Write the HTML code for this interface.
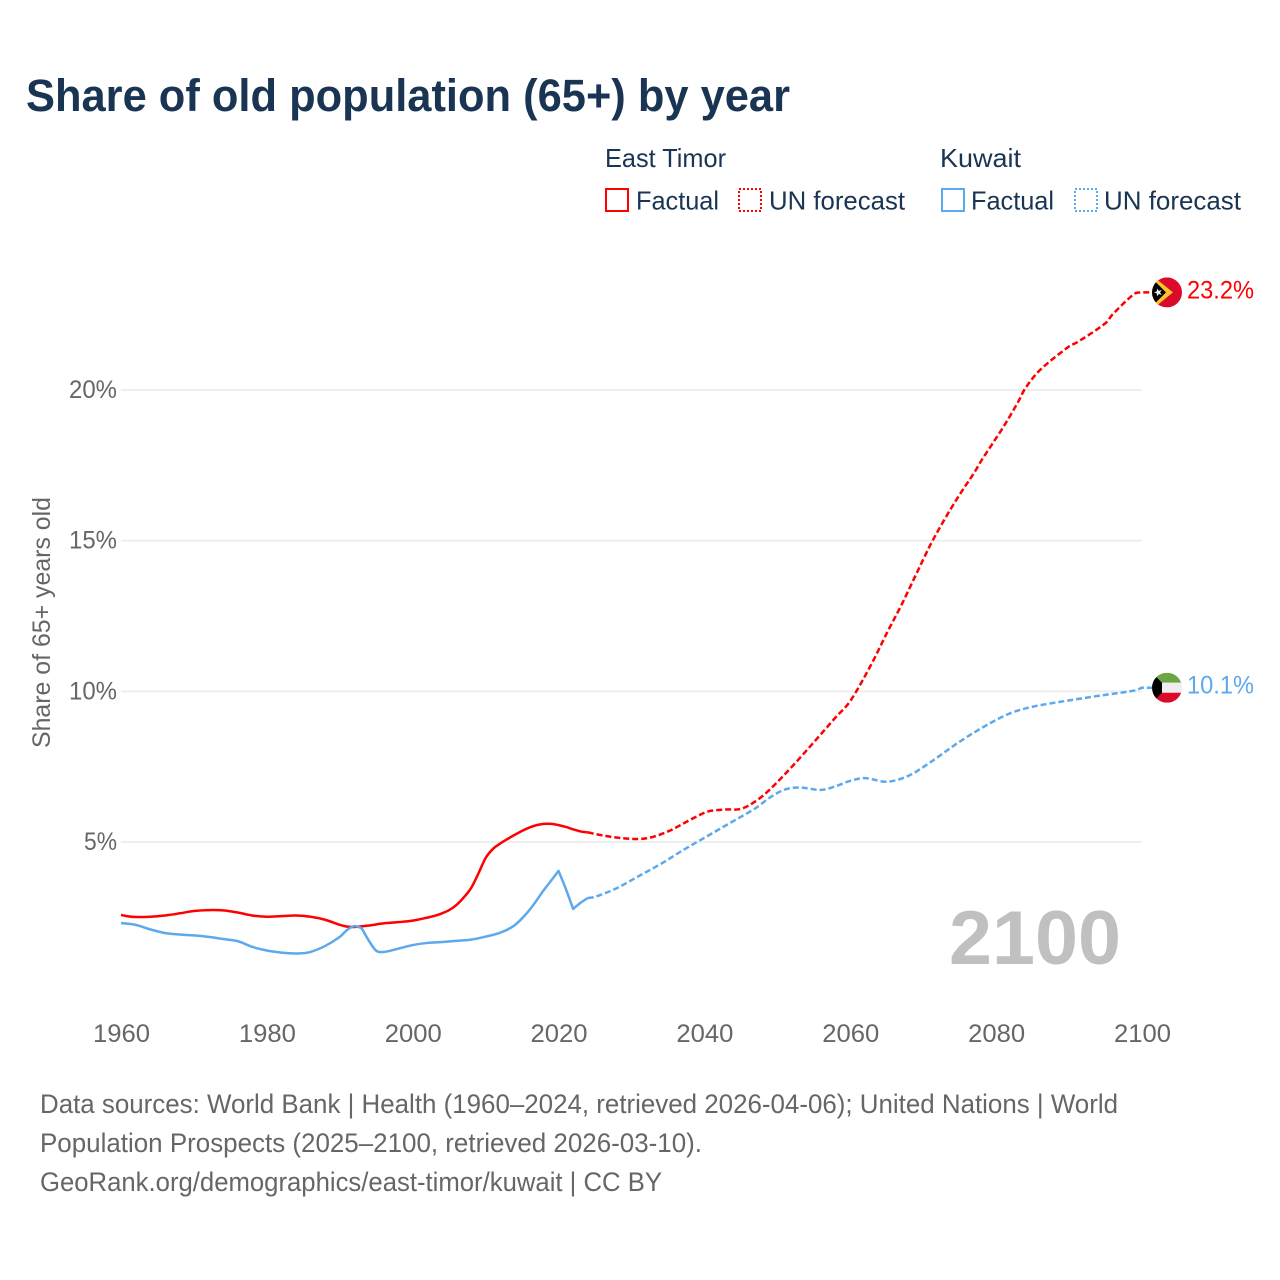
<!DOCTYPE html>
<html lang="en">
<head>
<meta charset="utf-8">
<title>Share of old population (65+) by year</title>
<style>
  html, body { margin: 0; padding: 0; background: #fff; }
  svg { display: block; font-family: "Liberation Sans", sans-serif; }
</style>
</head>
<body>
<svg id="chart" xmlns="http://www.w3.org/2000/svg" width="1280" height="1280" viewBox="0 0 1280 1280">
  <rect width="1280" height="1280" fill="#ffffff"/>
  <text x="26" y="111" font-size="45" font-weight="700" fill="#1a3553" textLength="764" lengthAdjust="spacingAndGlyphs">Share of old population (65+) by year</text>

  <g font-size="26" fill="#1a3553">
    <text x="605" y="167" textLength="121" lengthAdjust="spacingAndGlyphs">East Timor</text>
    <rect x="606" y="189" width="22" height="22" fill="none" stroke="#ff0000" stroke-width="2"/>
    <text x="636" y="209.5" textLength="83" lengthAdjust="spacingAndGlyphs">Factual</text>
    <rect x="739" y="189" width="22" height="22" fill="none" stroke="#ff0000" stroke-width="2" stroke-dasharray="2 2"/>
    <text x="769" y="209.5" textLength="136" lengthAdjust="spacingAndGlyphs">UN forecast</text>

    <text x="940" y="167" textLength="81" lengthAdjust="spacingAndGlyphs">Kuwait</text>
    <rect x="942" y="189" width="22" height="22" fill="none" stroke="#5ca9ee" stroke-width="2"/>
    <text x="971" y="209.5" textLength="83" lengthAdjust="spacingAndGlyphs">Factual</text>
    <rect x="1075" y="189" width="22" height="22" fill="none" stroke="#5ca9ee" stroke-width="2" stroke-dasharray="2 2"/>
    <text x="1104" y="209.5" textLength="137" lengthAdjust="spacingAndGlyphs">UN forecast</text>
  </g>

  <text transform="translate(50 622.5) rotate(-90)" text-anchor="middle" font-size="25" fill="#666666" textLength="251" lengthAdjust="spacingAndGlyphs">Share of 65+ years old</text>

  <g id="grid"></g>
  <g id="yticks"></g>
  <g id="xticks"></g>

  <text x="1121" y="964" text-anchor="end" font-size="76" font-weight="700" fill="#c0c0c0" textLength="172" lengthAdjust="spacingAndGlyphs">2100</text>

  <g id="series"></g>

  <defs>
    <clipPath id="flag-clip"><circle cx="0" cy="0" r="15"/></clipPath>
  </defs>

  <g id="flag-east-timor" clip-path="url(#flag-clip)">
    <rect x="-15" y="-15" width="30" height="30" fill="#dc0a2a"/>
    <polygon points="-15,-17 6,0 -15,17" fill="#fcc42c"/>
    <polygon points="-15,-14 -1,0 -15,14" fill="#000000"/>
    <polygon points="-13,0 -10.2,-1 -10,-4 -8.2,-1.6 -5.2,-2.4 -7,0 -5.2,2.4 -8.2,1.6 -10,4 -10.2,1" fill="#eeeeee"/>
  </g>
  <g id="flag-kuwait" clip-path="url(#flag-clip)">
    <rect x="-15" y="-15" width="30" height="10" fill="#6ca644"/>
    <rect x="-15" y="-5" width="30" height="10" fill="#eeeeee"/>
    <rect x="-15" y="5" width="30" height="10" fill="#dc0a2a"/>
    <polygon points="-15,-15 -5,-5 -5,5 -15,15" fill="#000000"/>
  </g>

  <g id="end-labels"></g>

  <g font-size="26.5" fill="#666666">
    <text x="40" y="1113" textLength="1078" lengthAdjust="spacingAndGlyphs">Data sources: World Bank | Health (1960–2024, retrieved 2026-04-06); United Nations | World</text>
    <text x="40" y="1152" textLength="662" lengthAdjust="spacingAndGlyphs">Population Prospects (2025–2100, retrieved 2026-03-10).</text>
    <text x="40" y="1191" textLength="622" lengthAdjust="spacingAndGlyphs">GeoRank.org/demographics/east-timor/kuwait | CC BY</text>
  </g>
</svg>

<script>
const xTickYears = [1960, 1980, 2000, 2020, 2040, 2060, 2080, 2100];
const yTickValues = [5, 10, 15, 20];

const eastTimorFactualYears = [1960,1961,1962,1964,1966,1968,1970,1972,1974,1976,1978,1980,1982,1984,1986,1988,1990,1991,1992,1994,1996,1998,2000,2002,2003,2004,2005,2006,2007,2008,2009,2010,2011,2012,2013,2014,2015,2016,2017,2018,2019,2020,2021,2022,2023,2024];
const eastTimorFactualValues = [2.58,2.53,2.51,2.52,2.56,2.63,2.71,2.74,2.73,2.66,2.56,2.52,2.54,2.56,2.52,2.42,2.25,2.19,2.18,2.23,2.30,2.34,2.39,2.49,2.55,2.63,2.74,2.91,3.16,3.47,3.95,4.47,4.77,4.95,5.10,5.24,5.37,5.48,5.56,5.60,5.60,5.56,5.50,5.42,5.35,5.32];

const eastTimorForecastYears = [2024,2026,2029,2032,2035,2038,2040,2041,2043,2045,2047,2049,2052,2055,2058,2060,2063,2065,2067,2069,2071,2073,2075,2077,2078,2081,2083,2084,2086,2090,2091,2095,2096,2099,2100];
const eastTimorForecastValues = [5.32,5.22,5.12,5.12,5.35,5.73,5.97,6.04,6.08,6.10,6.35,6.75,7.50,8.31,9.14,9.68,10.95,11.93,12.86,13.87,14.87,15.74,16.53,17.26,17.67,18.78,19.60,20.06,20.66,21.45,21.57,22.22,22.52,23.20,23.24];

const kuwaitFactualYears = [1960,1962,1964,1966,1968,1970,1972,1974,1976,1978,1980,1982,1984,1985,1986,1988,1990,1991,1992,1993,1994,1995,1996,1998,2000,2002,2004,2006,2008,2010,2012,2014,2016,2018,2020,2021,2022,2023,2024];
const kuwaitFactualValues = [2.31,2.25,2.10,1.98,1.93,1.90,1.85,1.78,1.71,1.52,1.40,1.33,1.30,1.31,1.35,1.55,1.85,2.08,2.21,2.14,1.72,1.39,1.35,1.46,1.58,1.65,1.68,1.72,1.76,1.86,1.99,2.24,2.74,3.41,4.04,3.44,2.78,2.98,3.14];
const kuwaitSharpYears = [1993, 2020, 2022];

const kuwaitForecastYears = [2024,2025,2028,2031,2034,2037,2040,2044,2047,2049,2051,2053,2056,2058,2060,2062,2065,2068,2071,2075,2079,2082,2085,2090,2094,2099,2100];
const kuwaitForecastValues = [3.14,3.18,3.47,3.87,4.27,4.72,5.14,5.70,6.12,6.48,6.74,6.81,6.73,6.85,7.03,7.12,7.00,7.20,7.65,8.33,8.92,9.28,9.49,9.70,9.85,10.03,10.12];

const svgNs = 'http://www.w3.org/2000/svg';
const RED = '#ff0000';
const BLUE = '#5ca9ee';
const FLAG_X = 1167;

function xScale(year) { return 121 + (year - 1960) * (1142 - 121) / 140; }
function yScale(value) { return 992.65 - value * 30.13; }

function makeEl(tag, parentId) {
  const el = document.createElementNS(svgNs, tag);
  document.getElementById(parentId).appendChild(el);
  return el;
}

yTickValues.forEach(function (value) {
  const line = makeEl('line', 'grid');
  
  
  line.setAttribute('x1', xScale(1960));
  line.setAttribute('x2', xScale(2100));
  line.setAttribute('y1', yScale(value));
  line.setAttribute('y2', yScale(value));
  line.setAttribute('stroke', '#eeeeee');
  line.setAttribute('stroke-width', '2');

  const label = makeEl('text', 'yticks');
  
  
  label.setAttribute('x', 117);
  label.setAttribute('y', yScale(value) + 8);
  label.setAttribute('text-anchor', 'end');
  label.setAttribute('font-size', '25');
  label.setAttribute('fill', '#666666');
  label.setAttribute('textLength', value < 10 ? '33' : '48');
  label.setAttribute('lengthAdjust', 'spacingAndGlyphs');
  label.textContent = value + '%';
});

xTickYears.forEach(function (year) {
  const label = makeEl('text', 'xticks');
  
  
  label.setAttribute('x', xScale(year) + 0.5);
  label.setAttribute('y', 1042);
  label.setAttribute('text-anchor', 'middle');
  label.setAttribute('font-size', '25');
  label.setAttribute('fill', '#666666');
  label.setAttribute('textLength', '57');
  label.setAttribute('lengthAdjust', 'spacingAndGlyphs');
  label.textContent = String(year);
});

function slopeAt(years, values, i) {
  const a = Math.max(i - 1, 0);
  const b = Math.min(i + 1, years.length - 1);
  return (yScale(values[b]) - yScale(values[a])) / (xScale(years[b]) - xScale(years[a]));
}

function linePath(years, values, sharpYears, extendToFlag) {
  let d = 'M' + xScale(years[0]).toFixed(2) + ' ' + yScale(values[0]).toFixed(2);
  for (let i = 0; i < years.length - 1; i++) {
    const x0 = xScale(years[i]);
    const x1 = xScale(years[i + 1]);
    const y0 = yScale(values[i]);
    const y1 = yScale(values[i + 1]);
    const h = (x1 - x0) / 3;
    const straight = (y1 - y0) / (x1 - x0);
    const m0 = sharpYears.indexOf(years[i]) >= 0 ? straight : slopeAt(years, values, i);
    const m1 = sharpYears.indexOf(years[i + 1]) >= 0 ? straight : slopeAt(years, values, i + 1);
    d += ' C' + (x0 + h).toFixed(2) + ' ' + (y0 + m0 * h).toFixed(2) + ' ' +
      (x1 - h).toFixed(2) + ' ' + (y1 - m1 * h).toFixed(2) + ' ' +
      x1.toFixed(2) + ' ' + y1.toFixed(2);
  }
  if (extendToFlag) {
    d += ' L' + FLAG_X + ' ' + yScale(values[values.length - 1]).toFixed(2);
  }
  return d;
}

function addEastTimorFactual() {
  const p = makeEl('path', 'series');
  
  
  p.setAttribute('d', linePath(eastTimorFactualYears, eastTimorFactualValues, [], false));
  p.setAttribute('fill', 'none');
  p.setAttribute('stroke', RED);
  p.setAttribute('stroke-width', '2.5');
  p.setAttribute('stroke-linejoin', 'round');
}

function addEastTimorForecast() {
  const p = makeEl('path', 'series');
  
  
  p.setAttribute('d', linePath(eastTimorForecastYears, eastTimorForecastValues, [], true));
  p.setAttribute('fill', 'none');
  p.setAttribute('stroke', RED);
  p.setAttribute('stroke-width', '2.5');
  p.setAttribute('stroke-dasharray', '6 3');
  p.setAttribute('stroke-linejoin', 'round');
}

function addKuwaitFactual() {
  const p = makeEl('path', 'series');
  
  
  p.setAttribute('d', linePath(kuwaitFactualYears, kuwaitFactualValues, kuwaitSharpYears, false));
  p.setAttribute('fill', 'none');
  p.setAttribute('stroke', BLUE);
  p.setAttribute('stroke-width', '2.5');
  p.setAttribute('stroke-linejoin', 'round');
}

function addKuwaitForecast() {
  const p = makeEl('path', 'series');
  
  
  p.setAttribute('d', linePath(kuwaitForecastYears, kuwaitForecastValues, [], true));
  p.setAttribute('fill', 'none');
  p.setAttribute('stroke', BLUE);
  p.setAttribute('stroke-width', '2.5');
  p.setAttribute('stroke-dasharray', '6 3');
  p.setAttribute('stroke-linejoin', 'round');
}

addEastTimorFactual();
addEastTimorForecast();
addKuwaitFactual();
addKuwaitForecast();

const eastTimorLast = eastTimorForecastValues[eastTimorForecastValues.length - 1];
const kuwaitLast = kuwaitForecastValues[kuwaitForecastValues.length - 1];

document.getElementById('flag-east-timor').setAttribute('transform', 'translate(' + FLAG_X + ' ' + yScale(eastTimorLast) + ')');
document.getElementById('flag-kuwait').setAttribute('transform', 'translate(' + FLAG_X + ' ' + yScale(kuwaitLast) + ')');

const eastTimorLabel = makeEl('text', 'end-labels');


eastTimorLabel.setAttribute('x', 1187);
eastTimorLabel.setAttribute('y', yScale(eastTimorLast) + 6);
eastTimorLabel.setAttribute('font-size', '25');
eastTimorLabel.setAttribute('fill', RED);
eastTimorLabel.setAttribute('textLength', '67');
eastTimorLabel.setAttribute('lengthAdjust', 'spacingAndGlyphs');
eastTimorLabel.textContent = eastTimorLast.toFixed(1) + '%';

const kuwaitLabel = makeEl('text', 'end-labels');


kuwaitLabel.setAttribute('x', 1187);
kuwaitLabel.setAttribute('y', yScale(kuwaitLast) + 6);
kuwaitLabel.setAttribute('font-size', '25');
kuwaitLabel.setAttribute('fill', BLUE);
kuwaitLabel.setAttribute('textLength', '67');
kuwaitLabel.setAttribute('lengthAdjust', 'spacingAndGlyphs');
kuwaitLabel.textContent = kuwaitLast.toFixed(1) + '%';
</script>
</body>
</html>
